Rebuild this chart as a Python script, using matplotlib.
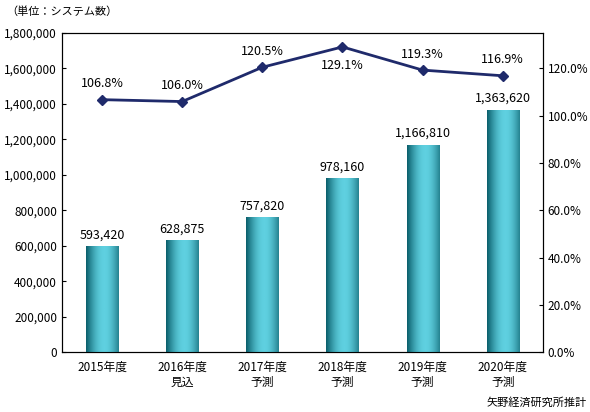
import matplotlib
matplotlib.use("Agg")
import matplotlib.pyplot as plt
import numpy as np

plt.rcParams['font.family'] = ['Noto Sans CJK JP', 'DejaVu Sans']

categories = ["2015年度", "2016年度\n見込", "2017年度\n予測", "2018年度\n予測", "2019年度\n予測", "2020年度\n予測"]
values = [593420, 628875, 757820, 978160, 1166810, 1363620]
ratios = [106.8, 106.0, 120.5, 129.1, 119.3, 116.9]

fig = plt.figure(figsize=(5.9, 4.12), dpi=100)
ax = fig.add_axes([0.105, 0.145, 0.815, 0.775])
x = np.arange(len(categories))
bars = ax.bar(x, values, width=0.4, color="#1aa6b8", edgecolor="#0f6f7c", linewidth=0.6, zorder=2)
cmap = matplotlib.colors.LinearSegmentedColormap.from_list("c", ["#0a5f6c", "#5fd0e0"])
for b in bars:
    x0, w, h = b.get_x(), b.get_width(), b.get_height()
    grad = np.sin(np.linspace(0.1, np.pi - 0.4, 64))[None, :]
    ax.imshow(grad, extent=[x0, x0 + w, 0, h], aspect='auto', cmap=cmap, zorder=3)
for xi, v in zip(x, values):
    ax.text(xi, v + 30000, f"{v:,}", ha='center', va='bottom', fontsize=9, zorder=5)
ax.set_xlim(-0.5, len(categories) - 0.5)
ax.set_ylim(0, 1800000)
ax.set_yticks(np.arange(0, 1800001, 200000))
ax.set_yticklabels([f"{v:,}" for v in range(0, 1800001, 200000)], fontsize=8.5)
ax.set_xticks(x)
ax.set_xticklabels(categories, fontsize=8.5)
ax.tick_params(axis='x', length=0, pad=6)
ax.tick_params(axis='y', direction='in', length=3)

ax2 = ax.twinx()
ax2.plot(x, ratios, color="#1f2a6b", marker='D', markersize=5, linewidth=2, zorder=6)
top = max(ratios)
for xi, r in zip(x, ratios):
    if r == top:
        ax2.text(xi, r - 5, f"{r:.1f}%", ha='center', va='top', fontsize=9)
    else:
        ax2.text(xi, r + 4, f"{r:.1f}%", ha='center', va='bottom', fontsize=9)
ax2.set_ylim(0, 135)
ax2.set_yticks(np.arange(0, 121, 20))
ax2.set_yticklabels([f"{v:.1f}%" for v in range(0, 121, 20)], fontsize=8.5)
ax2.tick_params(axis='y', direction='in', length=3)

fig.text(0.01, 0.985, "（単位：システム数）", fontsize=8, va='top')
fig.text(0.995, 0.01, "矢野経済研究所推計", fontsize=8, ha='right', va='bottom')
fig.savefig("out.png", dpi=100)
